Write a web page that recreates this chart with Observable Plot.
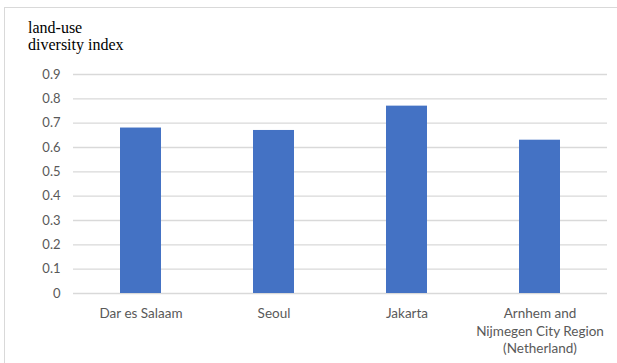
<!DOCTYPE html>
<html>
<head>
<meta charset="utf-8">
<script src="https://cdn.jsdelivr.net/npm/d3@7"></script>
<script src="https://cdn.jsdelivr.net/npm/@observablehq/plot@0.6"></script>
<style>
  html, body { margin: 0; padding: 0; background: #fff; }
  #wrap { position: relative; width: 617px; height: 363px; overflow: hidden; }
  #frame { position: absolute; left: 4px; top: 7px; width: 640px; height: 400px;
           border-left: 1.5px solid #d9d9d9; border-top: 1.5px solid #d9d9d9; box-sizing: border-box; }
  #title { position: absolute; left: 28px; top: 19px; font-family: "Liberation Serif", serif;
           font-size: 16px; line-height: 17px; color: #000; }
  #chart { position: absolute; left: 0; top: 0; }
</style>
</head>
<body>
<div id="wrap">
  <div id="frame"></div>
  <div id="chart"></div>
  <div id="title">land-use<br>diversity index</div>
</div>
<script>
const cities = ["Dar es Salaam", "Seoul", "Jakarta", "Arnhem and\nNijmegen City Region\n(Netherland)"];
const values = [0.68, 0.67, 0.77, 0.63];
const yTicks = [0, 0.1, 0.2, 0.3, 0.4, 0.5, 0.6, 0.7, 0.8, 0.9];
const yTickLabels = ["0", "0.1", "0.2", "0.3", "0.4", "0.5", "0.6", "0.7", "0.8", "0.9"];

const data = cities.map((c, i) => ({city: c, value: values[i]}));
const font = "Lato, 'Open Sans', sans-serif";

const chart = Plot.plot({
  width: 617,
  height: 363,
  marginLeft: 73,
  marginRight: 10,
  marginTop: 74,
  marginBottom: 70,
  style: {background: "transparent", fontFamily: font},
  x: {domain: cities, paddingInner: 0.69, paddingOuter: 0.345, axis: null},
  y: {domain: [0, 0.9], axis: null},
  marks: [
    Plot.gridY(yTicks, {stroke: "#d9d9d9", strokeOpacity: 1, strokeWidth: 1.3}),
    Plot.barY(data, {x: "city", y: "value", fill: "#4472c4"}),
    Plot.axisY(yTicks, {
      label: null, tickSize: 0, tickPadding: 13, fontSize: 13, fill: "#595959",
      tickFormat: (d) => yTickLabels[yTicks.indexOf(d)]
    }),
    Plot.text(data, {
      x: "city", y: 0, text: "city",
      lineAnchor: "top", dy: 12, lineHeight: 1.3, fontSize: 13.5, fill: "#595959"
    })
  ]
});
document.getElementById("chart").appendChild(chart);
</script>
</body>
</html>
